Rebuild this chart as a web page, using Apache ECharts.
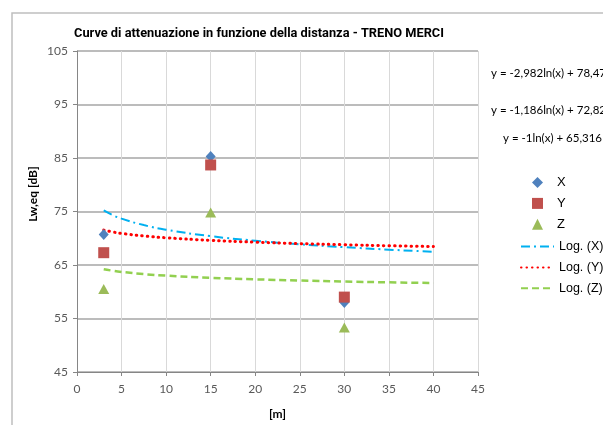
<!DOCTYPE html>
<html><head><meta charset="utf-8">
<script src="https://cdn.jsdelivr.net/npm/echarts@6/dist/echarts.min.js"></script>
<style>html,body{margin:0;padding:0;background:#fff}#c{width:603px;height:425px}</style>
</head><body><div id="c"></div>
<script>
// Measured points
const distances = [3, 15, 30];
const valuesX = [70.7, 85.3, 58.0];
const valuesY = [67.3, 83.7, 59.0];
const valuesZ = [60.5, 74.8, 53.3];
// Trend lines (log fits)
const trendX = [3, 4, 5, 7.5, 10, 15, 20, 25, 30, 35, 40];
const trendLogX = [75.19, 74.34, 73.67, 72.46, 71.60, 70.39, 69.54, 68.87, 68.33, 67.87, 67.47];
const trendLogY = [71.52, 71.18, 70.91, 70.43, 70.09, 69.61, 69.27, 69.00, 68.79, 68.60, 68.45];
const trendLogZ = [64.22, 63.93, 63.71, 63.30, 63.01, 62.61, 62.32, 62.10, 61.91, 61.76, 61.63];
const yTicks = [45, 55, 65, 75, 85, 95, 105];
const equations = ['y = -2,982ln(x) + 78,47', 'y = -1,186ln(x) + 72,82', 'y = -1ln(x) + 65,316'];
const titleText = 'Curve di attenuazione in funzione della distanza - TRENO MERCI';

const pairs = (xs, ys) => xs.map((x, i) => [x, ys[i]]);
const lab = {fontFamily: 'Lato', fontSize: 12, color: '#595959'};

const chart = echarts.init(document.getElementById('c'), null, {renderer: 'canvas'});
chart.setOption({
  animation: false,
  backgroundColor: '#fff',
  title: {text: titleText, left: 254, top: 22, textAlign: 'center',
    textStyle: {fontFamily: 'Roboto', fontWeight: 'bold', fontSize: 12.8, color: '#000'}},
  grid: {left: 77, right: 125, top: 51, bottom: 50},
  xAxis: {type: 'value', min: 0, max: 45, interval: 5,
    name: '[m]', nameLocation: 'middle', nameGap: 36,
    nameTextStyle: {fontFamily: 'Lato', fontWeight: 'bold', fontSize: 12, color: '#000'},
    axisLine: {lineStyle: {color: '#868686'}},
    axisTick: {show: true, length: 4, lineStyle: {color: '#868686'}},
    axisLabel: Object.assign({margin: 11}, lab),
    splitLine: {show: true, lineStyle: {color: '#d9d9d9', width: 1}}},
  yAxis: {type: 'value', min: 45, max: 105,
    axisLine: {show: true, lineStyle: {color: '#868686'}},
    axisTick: {show: true, length: 4, customValues: yTicks, lineStyle: {color: '#868686'}},
    axisLabel: Object.assign({margin: 9, customValues: yTicks}, lab),
    splitLine: {show: true, lineStyle: {color: '#a6a6a6', width: 1.5}}},
  legend: [
    {orient: 'vertical', left: 527, top: 171, itemWidth: 11, itemHeight: 11, itemGap: 7.9,
      textStyle: {fontFamily: 'Liberation Sans', fontSize: 13, color: '#000', padding: [0, 0, 0, 9]},
      data: ['X', 'Y', 'Z']},
    {orient: 'vertical', left: 515, top: 235, itemWidth: 33, itemHeight: 11, itemGap: 7.9,
      itemStyle: {opacity: 0},
      textStyle: {fontFamily: 'Liberation Sans', fontSize: 12.5, color: '#000'},
      data: ['Log. (X)', 'Log. (Y)', 'Log. (Z)']}
  ],
  graphic: [
    {type: 'rect', shape: {x: 12, y: 13, width: 620, height: 440}, style: {fill: 'none', stroke: '#bfbfbf', lineWidth: 1.5}, z: -10},
    {type: 'text', x: 33, y: 194, rotation: Math.PI / 2,
      style: {text: 'Lw,eq [dB]', fontFamily: 'Lato', fontWeight: 'bold', fontSize: 12, fill: '#000', textAlign: 'center', textVerticalAlign: 'middle'}},
    {type: 'text', x: 606, y: 73, style: {text: equations[0], fontFamily: 'Lato', fontSize: 11.5, fill: '#000', textAlign: 'right', textVerticalAlign: 'middle'}},
    {type: 'text', x: 606, y: 110, style: {text: equations[1], fontFamily: 'Lato', fontSize: 11.5, fill: '#000', textAlign: 'right', textVerticalAlign: 'middle'}},
    {type: 'text', x: 602, y: 138, style: {text: equations[2], fontFamily: 'Lato', fontSize: 11.5, fill: '#000', textAlign: 'right', textVerticalAlign: 'middle'}}
  ],
  series: [
    {name: 'X', type: 'scatter', symbol: 'diamond', symbolSize: [10, 11], itemStyle: {color: '#4f81bd', opacity: 1}, data: pairs(distances, valuesX), z: 5},
    {name: 'Y', type: 'scatter', symbol: 'rect', symbolSize: 11, itemStyle: {color: '#c0504d', opacity: 1}, data: pairs(distances, valuesY), z: 6},
    {name: 'Z', type: 'scatter', symbol: 'triangle', symbolSize: [11, 10], itemStyle: {color: '#9bbb59', opacity: 1}, data: pairs(distances, valuesZ), z: 5},
    {name: 'Log. (X)', type: 'line', smooth: true, showSymbol: false, data: pairs(trendX, trendLogX),
      itemStyle: {color: '#00b0f0'}, lineStyle: {color: '#00b0f0', width: 2, type: [9, 4, 2, 4]}},
    {name: 'Log. (Y)', type: 'line', smooth: true, showSymbol: false, data: pairs(trendX, trendLogY),
      itemStyle: {color: '#ff0000'}, lineStyle: {color: '#ff0000', width: 3, type: [0.5, 5], cap: 'round'}},
    {name: 'Log. (Z)', type: 'line', smooth: true, showSymbol: false, data: pairs(trendX, trendLogZ),
      itemStyle: {color: '#92d050'}, lineStyle: {color: '#92d050', width: 2.5, type: [7, 4]}}
  ]
});
</script></body></html>
